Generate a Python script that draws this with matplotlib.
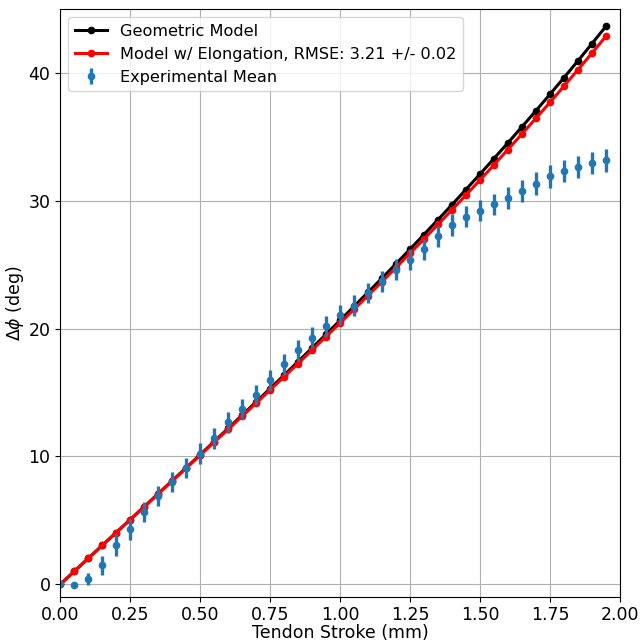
import numpy as np
import matplotlib
matplotlib.use('Agg')
import matplotlib.pyplot as plt

plt.rcParams['font.size'] = 12.5

# tendon stroke (mm)
stroke = [0.00, 0.05, 0.10, 0.15, 0.20, 0.25, 0.30, 0.35, 0.40, 0.45,
          0.50, 0.55, 0.60, 0.65, 0.70, 0.75, 0.80, 0.85, 0.90, 0.95,
          1.00, 1.05, 1.10, 1.15, 1.20, 1.25, 1.30, 1.35, 1.40, 1.45,
          1.50, 1.55, 1.60, 1.65, 1.70, 1.75, 1.80, 1.85, 1.90, 1.95]

# geometric model
geometric = [0.00, 1.01, 2.03, 3.04, 4.05, 5.06, 6.07, 7.09, 8.10, 9.12,
             10.14, 11.17, 12.19, 13.23, 14.27, 15.31, 16.36, 17.42, 18.49, 19.56,
             20.64, 21.74, 22.84, 23.95, 25.07, 26.21, 27.36, 28.52, 29.69, 30.88,
             32.08, 33.30, 34.53, 35.78, 37.04, 38.32, 39.62, 40.94, 42.28, 43.64]

# model with elongation
elongation = [0.00, 1.01, 2.03, 3.04, 4.04, 5.05, 6.05, 7.06, 8.07, 9.08,
              10.09, 11.11, 12.12, 13.14, 14.17, 15.20, 16.23, 17.27, 18.32, 19.38,
              20.44, 21.51, 22.59, 23.68, 24.78, 25.89, 27.01, 28.15, 29.29, 30.45,
              31.62, 32.81, 34.01, 35.22, 36.45, 37.69, 38.96, 40.24, 41.54, 42.86]

# experimental mean and std
exp_mean = [0.00, -0.05, 0.41, 1.50, 3.08, 4.30, 5.67, 6.90, 8.02, 9.10,
            10.22, 11.42, 12.66, 13.72, 14.82, 15.95, 17.20, 18.30, 19.28, 20.18,
            21.05, 21.80, 22.80, 23.70, 24.60, 25.40, 26.20, 27.24, 28.10, 28.75,
            29.22, 29.74, 30.20, 30.75, 31.35, 31.90, 32.34, 32.66, 32.97, 33.17]
exp_std = [0.00, 0.05, 0.50, 0.75, 0.85, 0.80, 0.80, 0.80, 0.80, 0.80,
           0.80, 0.80, 0.80, 0.80, 0.80, 0.80, 0.82, 0.82, 0.82, 0.82,
           0.80, 0.80, 0.80, 0.80, 0.82, 0.82, 0.82, 0.82, 0.83, 0.83,
           0.82, 0.82, 0.85, 0.85, 0.88, 0.90, 0.88, 0.88, 0.88, 0.90]

fig, ax = plt.subplots(figsize=(6.41, 6.43), dpi=100)
fig.subplots_adjust(left=0.094, right=0.967, top=0.986, bottom=0.072)

ax.plot(stroke, geometric, 'k-o', lw=2.2, markersize=4.5, label='Geometric Model')
ax.plot(stroke, elongation, 'r-o', lw=2.2, markersize=4.5,
        label='Model w/ Elongation, RMSE: 3.21 +/- 0.02')
ax.errorbar(stroke, exp_mean, yerr=exp_std, fmt='o', color='#1f77b4',
            markersize=4.5, elinewidth=2.4, label='Experimental Mean')

ax.set_xlim(0, 2.0)
ax.set_ylim(-0.97, 45.0)
ax.set_xticks(np.arange(0, 2.01, 0.25))
ax.grid(True)
ax.set_xlabel('Tendon Stroke (mm)', labelpad=0)
ax.set_ylabel(r'$\Delta\phi$ (deg)', labelpad=2)
ax.legend(loc='upper left', fontsize=11.6)

plt.savefig('out.png')
